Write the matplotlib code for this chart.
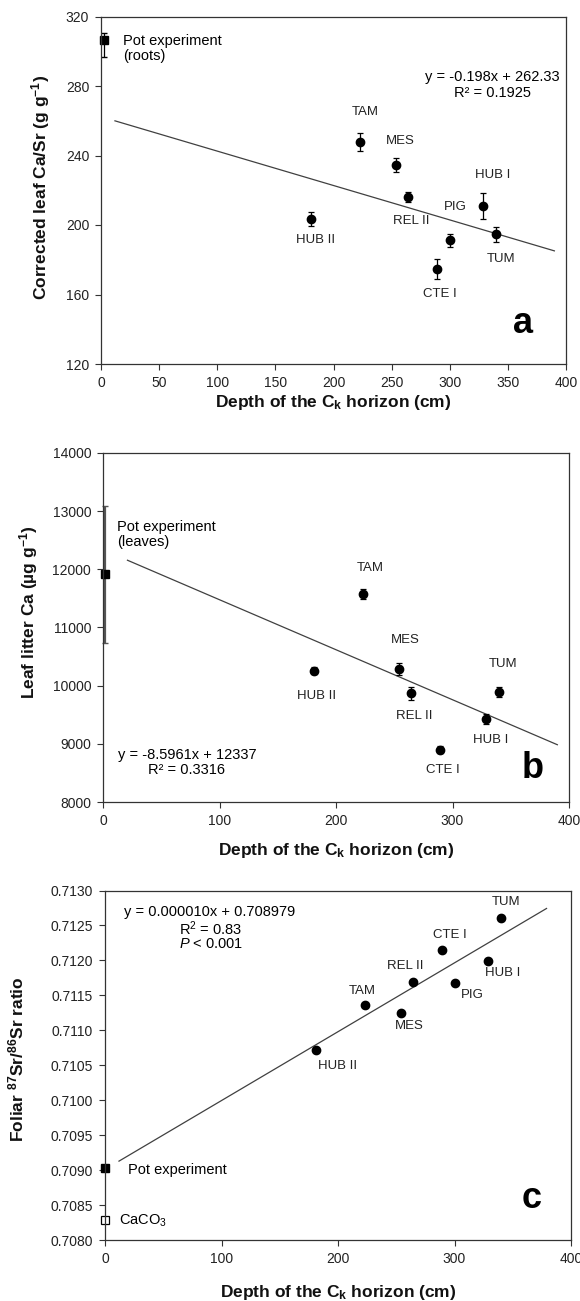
import numpy as np
import matplotlib
matplotlib.use("Agg")
import matplotlib.pyplot as plt
from matplotlib.ticker import MultipleLocator, FormatStrFormatter

plt.rcParams['font.family'] = ['Liberation Sans', 'DejaVu Sans']
plt.rcParams['mathtext.fontset'] = 'custom'
plt.rcParams['mathtext.rm'] = 'Liberation Sans'
plt.rcParams['mathtext.it'] = 'Liberation Sans:italic'
plt.rcParams['mathtext.bf'] = 'Liberation Sans:bold'
plt.rcParams['mathtext.default'] = 'regular'

# ------------------------------------
# Data
# ------------------------------------

sites = ["HUB II", "TAM", "MES", "REL II", "CTE I", "PIG", "HUB I", "TUM"]
depth = [181, 223, 254, 264, 289, 300, 329, 340]

# a: corrected leaf Ca/Sr
ca_sr = [203.3, 247.7, 234.6, 216.1, 174.7, 191.3, 210.7, 194.6]
ca_sr_err = [4, 5, 4, 3, 6, 3.8, 7.5, 4.5]
pot_roots_depth = 2.5
pot_roots = 306.6
pot_roots_err = [[9.8], [3.8]]
fit_a = (-0.198, 262.33)
fit_a_x = [12, 390]

# b: leaf litter Ca (no PIG)
litter_ca = [10257, 11579, 10286, 9869, 8897, np.nan, 9429, 9891]
litter_ca_err = [60, 90, 100, 110, 60, np.nan, 80, 80]
pot_leaves_depth = 1.6
pot_leaves = 11914
pot_leaves_err = 1175
fit_b = (-8.5961, 12337)
fit_b_x = [21, 390]

# c: foliar 87Sr/86Sr
sr_ratio = [0.710724, 0.711359, 0.711249, 0.711693, 0.712147, 0.711679, 0.711990, 0.712600]
pot_sr = 0.70903
caco3_sr = 0.70828
fit_c = (0.00000985, 0.709010)
fit_c_x = [12, 379]

# ------------------------------------
# Layout helpers
# ------------------------------------

W, H = 580, 1301
fig = plt.figure(figsize=(W / 100, H / 100), dpi=100)


def make_axes(left, top, right, bottom):
    return fig.add_axes([left / W, 1 - bottom / H, (right - left) / W, (bottom - top) / H])


def style_axes(ax):
    for s in ax.spines.values():
        s.set_linewidth(0.9)
        s.set_color("#333333")
    ax.tick_params(direction="out", length=4, width=0.8, pad=4.5,
                   labelsize=10, colors="#333333", labelcolor="#222222",
                   top=False, right=False)


def label_points(ax, xs, ys, offsets):
    for name, x, y in zip(sites, xs, ys):
        if np.isnan(y):
            continue
        dx, dy = offsets[name]
        ax.annotate(name, (x, y), xytext=(dx, -dy), textcoords="offset pixels",
                    ha="center", va="center", fontsize=9.5, color="#222222")


dot = dict(fmt="o", color="black", ms=6, ecolor="black", elinewidth=0.9,
           capsize=2.5, capthick=0.9)
axis_font = dict(fontsize=12.5, fontweight="bold", color="#111111")

# ------------------------------------
# Panel a
# ------------------------------------

ax = make_axes(101, 16.5, 566, 364)
style_axes(ax)
xs = np.array(fit_a_x)
ax.plot(xs, fit_a[0] * xs + fit_a[1], color="#404040", lw=0.9)
ax.errorbar(depth, ca_sr, yerr=ca_sr_err, **dot)
ax.errorbar([pot_roots_depth], [pot_roots], yerr=pot_roots_err, fmt="s", color="black",
            ms=6, ecolor="black", elinewidth=0.9, capsize=2.5, clip_on=False)
ax.set_xlim(0, 400)
ax.set_ylim(120, 320)
ax.xaxis.set_major_locator(MultipleLocator(50))
ax.yaxis.set_major_locator(MultipleLocator(40))
label_points(ax, depth, ca_sr, {
    "HUB II": (4, 21), "TAM": (5, -30), "MES": (4, -24), "REL II": (3, 24),
    "CTE I": (3, 25), "PIG": (6, -33), "HUB I": (9, -31), "TUM": (5, 25)})
ax.text(0.048, 0.907, "Pot experiment\n(roots)", transform=ax.transAxes,
        ha="left", va="center", fontsize=10.5, linespacing=1.1)
ax.text(0.841, 0.803, "y = -0.198x + 262.33\nR² = 0.1925", transform=ax.transAxes,
        ha="center", va="center", fontsize=10.5, linespacing=1.1, multialignment="center")
ax.text(0.908, 0.089, "a", transform=ax.transAxes, ha="center", va="baseline",
        fontsize=26, fontweight="bold")
fig.text(333.5 / W, 1 - 402 / H, "Depth of the C$_k$ horizon (cm)", ha="center",
         va="center", **axis_font)
fig.text(41 / W, 1 - 187 / H, "Corrected leaf Ca/Sr (g g$^{-1}$)", ha="center",
         va="center", rotation=90, **axis_font)

# ------------------------------------
# Panel b
# ------------------------------------

ax = make_axes(103, 453, 569, 802)
style_axes(ax)
xs = np.array(fit_b_x)
ax.plot(xs, fit_b[0] * xs + fit_b[1], color="#404040", lw=0.9)
ax.errorbar(depth, litter_ca, yerr=litter_ca_err, **dot)
ax.errorbar([pot_leaves_depth], [pot_leaves], yerr=pot_leaves_err, fmt="s", color="black",
            ms=6, ecolor="#555555", elinewidth=1.6, capsize=2.5, clip_on=False)
ax.set_xlim(0, 400)
ax.set_ylim(8000, 14000)
ax.xaxis.set_major_locator(MultipleLocator(100))
ax.yaxis.set_major_locator(MultipleLocator(1000))
label_points(ax, depth, litter_ca, {
    "HUB II": (3, 25), "TAM": (7, -26), "MES": (6, -29), "REL II": (4, 23),
    "CTE I": (3, 20), "HUB I": (4, 21), "TUM": (4, -28)})
ax.text(0.031, 0.767, "Pot experiment\n(leaves)", transform=ax.transAxes,
        ha="left", va="center", fontsize=10.5, linespacing=1.1)
ax.text(0.180, 0.112, "y = -8.5961x + 12337\nR² = 0.3316", transform=ax.transAxes,
        ha="center", va="center", fontsize=10.5, linespacing=1.1, multialignment="center")
ax.text(0.923, 0.068, "b", transform=ax.transAxes, ha="center", va="baseline",
        fontsize=26, fontweight="bold")
fig.text(336 / W, 1 - 851 / H, "Depth of the C$_k$ horizon (cm)", ha="center",
         va="center", **axis_font)
fig.text(28.5 / W, 1 - 612 / H, "Leaf litter Ca (µg g$^{-1}$)", ha="center",
         va="center", rotation=90, **axis_font)

# ------------------------------------
# Panel c
# ------------------------------------

ax = make_axes(105, 890.5, 571, 1240)
style_axes(ax)
xs = np.array(fit_c_x)
ax.plot(xs, fit_c[0] * xs + fit_c[1], color="#404040", lw=0.9)
ax.plot(depth, sr_ratio, "o", color="black", ms=6)
ax.plot([0], [pot_sr], "s", color="black", ms=6, clip_on=False)
ax.plot([0], [caco3_sr], "s", mfc="white", mec="black", mew=0.9, ms=6, clip_on=False)
ax.set_xlim(0, 400)
ax.set_ylim(0.7080, 0.7130)
ax.xaxis.set_major_locator(MultipleLocator(100))
ax.yaxis.set_major_locator(MultipleLocator(0.0005))
ax.yaxis.set_major_formatter(FormatStrFormatter("%.4f"))
label_points(ax, depth, sr_ratio, {
    "HUB II": (22, 16), "TAM": (-3, -14), "MES": (8, 13), "REL II": (-7, -16),
    "CTE I": (8, -15), "PIG": (18, 12), "HUB I": (14, 12), "TUM": (5, -16)})
ax.text(0.041, 0.938, "y = 0.000010x + 0.708979", transform=ax.transAxes,
        ha="left", va="center", fontsize=10.5)
ax.text(0.159, 0.892, "R$^2$ = 0.83", transform=ax.transAxes,
        ha="left", va="center", fontsize=10.5)
ax.text(0.159, 0.847, "$\\mathit{P}$ < 0.001", transform=ax.transAxes,
        ha="left", va="center", fontsize=10.5)
ax.text(0.049, 0.200, "Pot experiment", transform=ax.transAxes,
        ha="left", va="center", fontsize=10.5)
ax.text(0.029, 0.054, "CaCO$_3$", transform=ax.transAxes,
        ha="left", va="center", fontsize=10.5)
ax.text(0.916, 0.091, "c", transform=ax.transAxes, ha="center", va="baseline",
        fontsize=26, fontweight="bold")
fig.text(338 / W, 1 - 1292 / H, "Depth of the C$_k$ horizon (cm)", ha="center",
         va="center", **axis_font)
fig.text(16.7 / W, 1 - 1059 / H, "Foliar $^{87}$Sr/$^{86}$Sr ratio", ha="center",
         va="center", rotation=90, **axis_font)

fig.savefig("out.png", dpi=100)
plt.close(fig)
